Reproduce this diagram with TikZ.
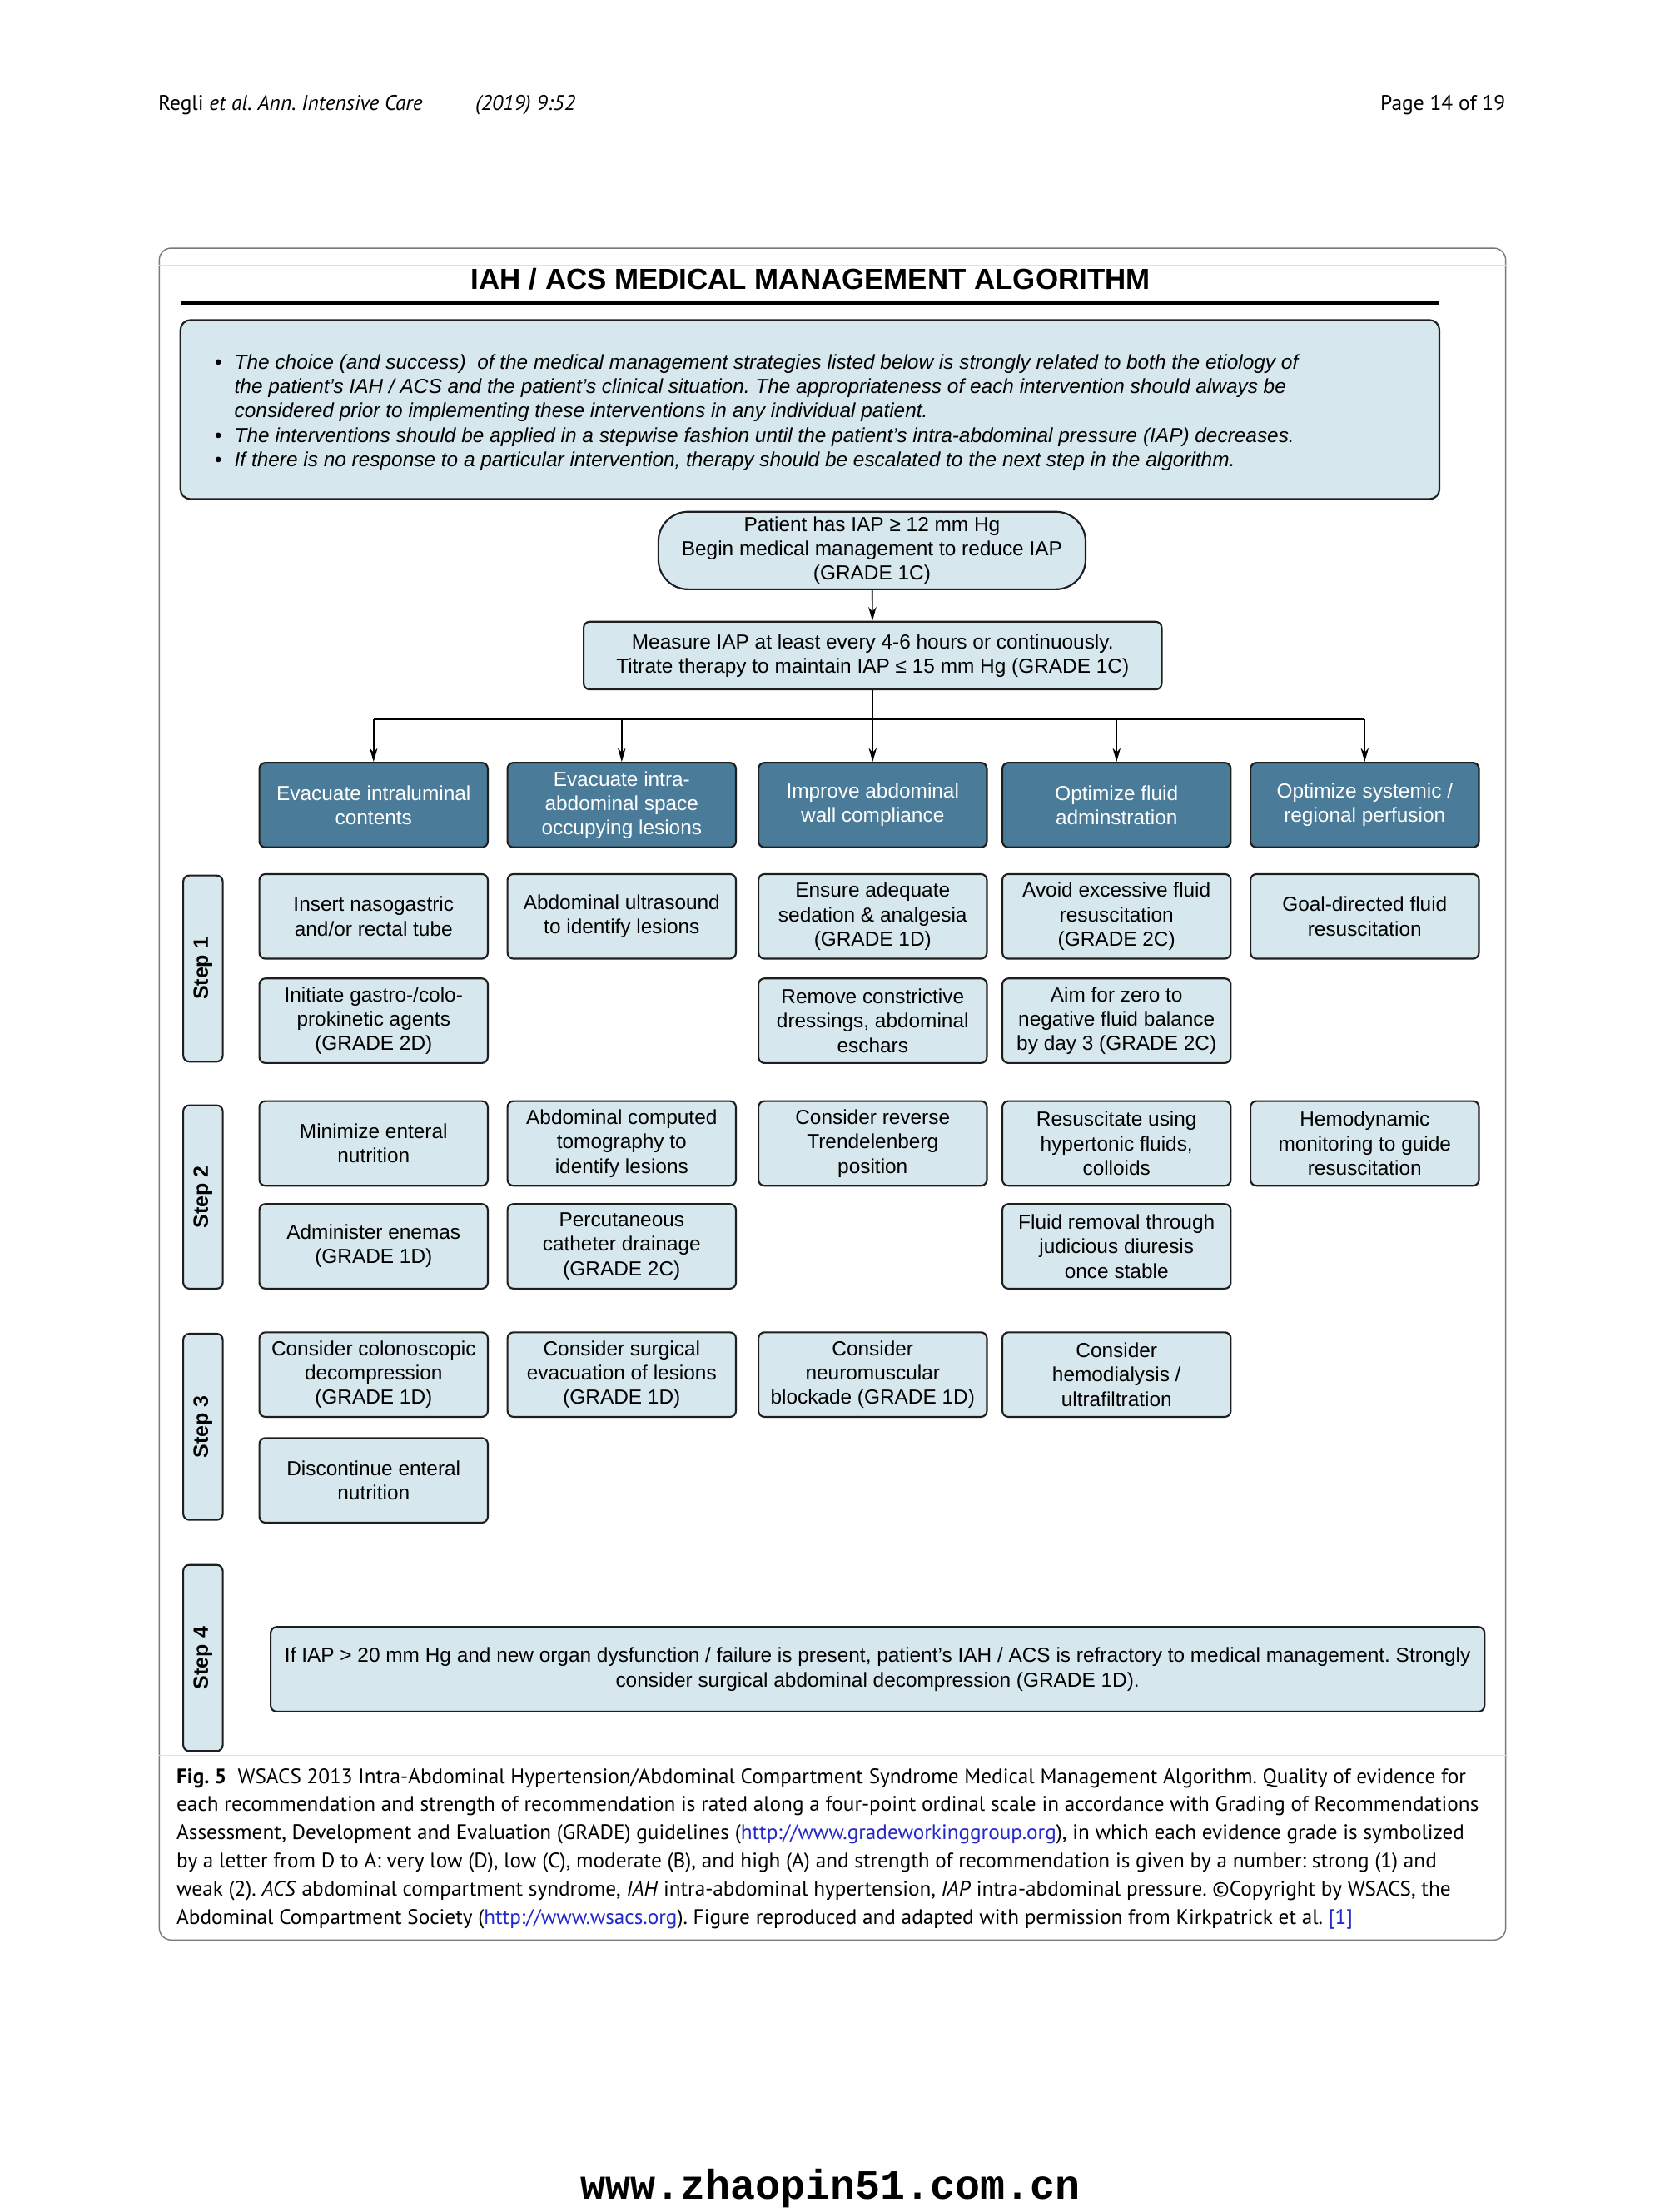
\documentclass[tikz,border=0pt]{standalone}
\usepackage{fontspec}
\setmainfont{Liberation Sans}
\newfontfamily\capfont{PT Sans}
\newfontfamily\wmfont{Liberation Mono}
\usetikzlibrary{arrows.meta}
\definecolor{lightbox}{RGB}{214,232,238}
\definecolor{darkbox}{RGB}{74,123,153}
\definecolor{edgec}{RGB}{30,30,30}
\definecolor{linkblue}{RGB}{35,40,200}
\definecolor{framec}{RGB}{120,120,120}
\frenchspacing
\newcommand\bx[7]{%
  \pgfmathsetlengthmacro\bxw{(#4-#2)*0.25mm}%
  \pgfmathsetlengthmacro\bxh{(#5-#3)*0.25mm}%
  \node[#6, minimum width=\bxw, minimum height=\bxh] (#1) at ({(#2+#4)/2},{(#3+#5)/2}) {#7};}
\tikzset{
  box/.style={draw=edgec, line width=0.9pt, rounded corners=3pt, fill=lightbox, align=center, inner sep=0pt, font=\fontsize{10.25}{12.3}\selectfont},
  hbox/.style={box, fill=darkbox, text=white},
  steplbl/.style={box, font=\bfseries\fontsize{10.5}{12}\selectfont, rotate=90},
  arr/.style={line width=0.7pt, -{Stealth[length=7pt,width=4pt]}},
}
\begin{document}
\begin{tikzpicture}[x=0.25mm, y=-0.25mm]
\useasboundingbox (0,0) rectangle (1181,1568.97);
\fill[white] (0,0) rectangle (1181,1568.97);

% page header
\node[anchor=base west, inner sep=0, font=\capfont\fontsize{10.7}{12}\selectfont] (hdl) at (112,78) {Regli \textit{et al. Ann. Intensive Care}};
\node[anchor=base west, inner sep=0, font=\capfont\fontsize{10.7}{12}\selectfont] (hdm) at (337,78) {\textit{(2019) 9:52}};
\node[anchor=base east, inner sep=0, font=\capfont\fontsize{10.7}{12}\selectfont] (hdr) at (1068,78) {Page 14 of 19};

% frame
\draw[framec, line width=0.6pt, rounded corners=6pt] (113,176) rectangle (1068,1376);
\draw[black!12, line width=0.5pt] (113,188) -- (1068,188);
\draw[black!12, line width=0.5pt] (113,1245) -- (1068,1245);

% title
\node[inner sep=0, font=\bfseries\fontsize{14.65}{16}\selectfont] (title) at (575,198) {IAH / ACS MEDICAL MANAGEMENT ALGORITHM};
\draw[line width=1.5pt] (128,215) -- (1021,215);

% notes
\bx{notes}{128}{227}{1021}{354}{box, rounded corners=5pt}{}
\node[anchor=north west, inner sep=0, align=left, font=\itshape\fontsize{10.25}{12.3}\selectfont] (notetext) at (152,251) {%
\makebox[10pt][l]{\textbullet}The choice (and success)\ \ of the medical management strategies listed below is strongly related to both the etiology of\\
\hspace*{10pt}the patient’s IAH / ACS and the patient’s clinical situation. The appropriateness of each intervention should always be\\
\hspace*{10pt}considered prior to implementing these interventions in any individual patient.\\
\makebox[10pt][l]{\textbullet}The interventions should be applied in a stepwise fashion until the patient’s intra-abdominal pressure (IAP) decreases.\\
\makebox[10pt][l]{\textbullet}If there is no response to a particular intervention, therapy should be escalated to the next step in the algorithm.};

% start and measure
\bx{start}{467}{363}{770}{418}{box, rounded corners=15pt}{Patient has IAP ≥ 12 mm Hg\\Begin medical management to reduce IAP\\(GRADE 1C)}
\bx{measure}{414}{441}{824}{489}{box}{Measure IAP at least every 4-6 hours or continuously.\\Titrate therapy to maintain IAP ≤ 15 mm Hg (GRADE 1C)}

% headers
\bx{h1}{184}{541}{346}{601}{hbox}{Evacuate intraluminal\\contents}
\bx{h2}{360}{541}{522}{601}{hbox}{Evacuate intra-\\abdominal space\\occupying lesions}
\bx{h3}{538}{541}{700}{601}{hbox}{Improve abdominal\\wall compliance}
\bx{h4}{711}{541}{873}{601}{hbox}{Optimize fluid\\adminstration}
\bx{h5}{887}{541}{1049}{601}{hbox}{Optimize systemic /\\regional perfusion}

% connectors
\coordinate (bus) at (618,510);
\draw[arr] (start) -- (measure);
\draw[arr] (measure) -- (h3);
\draw[line width=1.1pt] (h1.north |- bus) -- (h5.north |- bus);
\draw[arr] (h1.north |- bus) -- (h1.north);
\draw[arr] (h2.north |- bus) -- (h2.north);
\draw[arr] (h4.north |- bus) -- (h4.north);
\draw[arr] (h5.north |- bus) -- (h5.north);

% step labels
\node[steplbl, minimum width=33mm, minimum height=7mm] (s1) at (144,687) {Step 1};
\node[steplbl, minimum width=32.5mm, minimum height=7mm] (s2) at (144,849) {Step 2};
\node[steplbl, minimum width=33mm, minimum height=7mm] (s3) at (144,1012) {Step 3};
\node[steplbl, minimum width=33mm, minimum height=7mm] (s4) at (144,1176) {Step 4};

% step 1
\bx{a11}{184}{620}{346}{680}{box}{Insert nasogastric\\and/or rectal tube}
\bx{a12}{360}{620}{522}{680}{box}{Abdominal ultrasound\\to identify lesions}
\bx{a13}{538}{620}{700}{680}{box}{Ensure adequate\\sedation \& analgesia\\(GRADE 1D)}
\bx{a14}{711}{620}{873}{680}{box}{Avoid excessive fluid\\resuscitation\\(GRADE 2C)}
\bx{a15}{887}{620}{1049}{680}{box}{Goal-directed fluid\\resuscitation}
\bx{b11}{184}{694}{346}{754}{box}{Initiate gastro-/colo-\\prokinetic agents\\(GRADE 2D)}
\bx{b13}{538}{694}{700}{754}{box}{Remove constrictive\\dressings, abdominal\\eschars}
\bx{b14}{711}{694}{873}{754}{box}{Aim for zero to\\negative fluid balance\\by day 3 (GRADE 2C)}

% step 2
\bx{a21}{184}{781}{346}{841}{box}{Minimize enteral\\nutrition}
\bx{a22}{360}{781}{522}{841}{box}{Abdominal computed\\tomography to\\identify lesions}
\bx{a23}{538}{781}{700}{841}{box}{Consider reverse\\Trendelenberg\\position}
\bx{a24}{711}{781}{873}{841}{box}{Resuscitate using\\hypertonic fluids,\\colloids}
\bx{a25}{887}{781}{1049}{841}{box}{Hemodynamic\\monitoring to guide\\resuscitation}
\bx{b21}{184}{854}{346}{914}{box}{Administer enemas\\(GRADE 1D)}
\bx{b22}{360}{854}{522}{914}{box}{Percutaneous\\catheter drainage\\(GRADE 2C)}
\bx{b24}{711}{854}{873}{914}{box}{Fluid removal through\\judicious diuresis\\once stable}

% step 3
\bx{a31}{184}{945}{346}{1005}{box}{Consider colonoscopic\\decompression\\(GRADE 1D)}
\bx{a32}{360}{945}{522}{1005}{box}{Consider surgical\\evacuation of lesions\\(GRADE 1D)}
\bx{a33}{538}{945}{700}{1005}{box}{Consider\\neuromuscular\\blockade (GRADE 1D)}
\bx{a34}{711}{945}{873}{1005}{box}{Consider\\hemodialysis /\\ultrafiltration}
\bx{b31}{184}{1020}{346}{1080}{box}{Discontinue enteral\\nutrition}

% step 4
\bx{a41}{192}{1154}{1053}{1214}{box}{If IAP > 20 mm Hg and new organ dysfunction / failure is present, patient’s IAH / ACS is refractory to medical management. Strongly\\consider surgical abdominal decompression (GRADE 1D).}

% caption
\node[anchor=north west, inner sep=0, align=left, font=\capfont\fontsize{10.6}{14.23}\selectfont] (caption) at (125,1254) {%
{\bfseries Fig. 5}\ \ WSACS 2013 Intra-Abdominal Hypertension/Abdominal Compartment Syndrome Medical Management Algorithm. Quality of evidence for\\
each recommendation and strength of recommendation is rated along a four-point ordinal scale in accordance with Grading of Recommendations\\
Assessment, Development and Evaluation (GRADE) guidelines (\textcolor{linkblue}{http://www.gradeworkinggroup.org}), in which each evidence grade is symbolized\\
by a letter from D to A: very low (D), low (C), moderate (B), and high (A) and strength of recommendation is given by a number: strong (1) and\\
weak (2). \textit{ACS} abdominal compartment syndrome, \textit{IAH} intra-abdominal hypertension, \textit{IAP} intra-abdominal pressure. ©Copyright by WSACS, the\\
Abdominal Compartment Society (\textcolor{linkblue}{http://www.wsacs.org}). Figure reproduced and adapted with permission from Kirkpatrick et al. \textcolor{linkblue}{[1]}};

% watermark
\node[inner sep=0, font=\wmfont\bfseries\fontsize{21}{24}\selectfont] (wm) at (589,1552) {www.zhaopin51.com.cn};
\end{tikzpicture}
\end{document}
